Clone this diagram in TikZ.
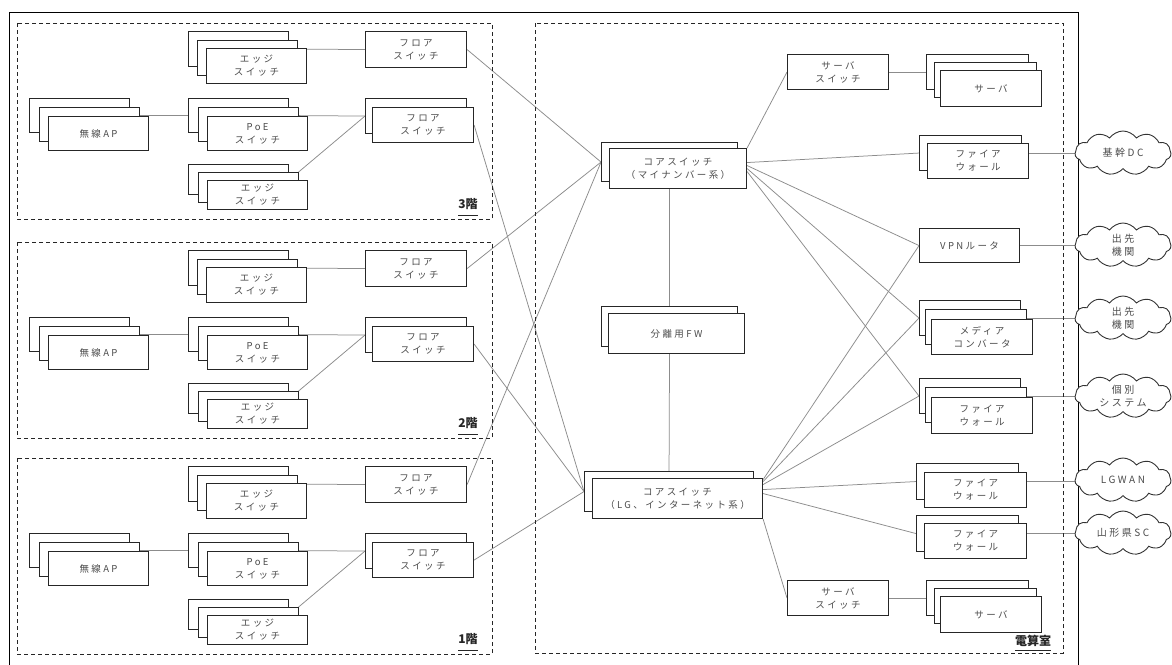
\documentclass[tikz,border=0pt]{standalone}
\usepackage{fontspec}
\newfontfamily\jpf[LetterSpace=25]{Noto Sans CJK JP}
\newfontfamily\jpl{Noto Sans CJK JP}
\usetikzlibrary{shapes.symbols}
\pgfdeclarelayer{bg}
\pgfsetlayers{bg,main}
\tikzset{
  box/.style={draw=black!85, line width=1.1pt, fill=white, anchor=north west, inner sep=0pt,
    text=black!70, align=center, font=\jpf\fontsize{9.5}{13}\selectfont},
  conn/.style={draw=black!45, line width=0.75pt},
  frame/.style={draw=black!85, line width=0.9pt, dash pattern=on 4pt off 3pt},
  flabel/.style={inner sep=0pt, font=\jpl\bfseries\fontsize{12}{12}\selectfont, text=black!85},
  cloudn/.style={cloud, draw=black!80, fill=white, line width=0.9pt, cloud puffs=11, cloud puff arc=110,
    cloud ignores aspect, minimum width=96pt, minimum height=44pt, inner sep=0pt, align=center,
    text=black!70, font=\jpf\fontsize{10}{13}\selectfont},
}
\newcommand\myfloor[3]{%
  \draw[frame] (17,#1) rectangle (492,{#1+196});
  \node[box,minimum width=100pt,minimum height=35pt] (#2e1b) at (188,{#1+8}) {};
  \node[box,minimum width=100pt,minimum height=35pt] (#2e1m) at (197,{#1+16.5}) {};
  \node[box,minimum width=100pt,minimum height=35pt] (#2e1f) at (206,{#1+25}) {エッジ\\スイッチ};
  \node[box,minimum width=101pt,minimum height=36pt] (#2fs1) at (365,{#1+8}) {フロア\\スイッチ};
  \node[box,minimum width=100pt,minimum height=34pt] (#2apb) at (29,{#1+75}) {};
  \node[box,minimum width=100pt,minimum height=34pt] (#2apm) at (38.5,{#1+84}) {};
  \node[box,minimum width=100pt,minimum height=34pt] (#2apf) at (48,{#1+93}) {無線AP};
  \node[box,minimum width=100pt,minimum height=34pt] (#2pb) at (188,{#1+75}) {};
  \node[box,minimum width=100pt,minimum height=34pt] (#2pm) at (197.5,{#1+84}) {};
  \node[box,minimum width=100pt,minimum height=34pt] (#2pf) at (207,{#1+93}) {PoE\\スイッチ};
  \node[box,minimum width=101pt,minimum height=35pt] (#2fb) at (365,{#1+75}) {};
  \node[box,minimum width=101pt,minimum height=35pt] (#2ff) at (372,{#1+84}) {フロア\\スイッチ};
  \node[box,minimum width=100pt,minimum height=30pt] (#2e2b) at (188,{#1+141}) {};
  \node[box,minimum width=100pt,minimum height=30pt] (#2e2m) at (197.5,{#1+149}) {};
  \node[box,minimum width=100pt,minimum height=29pt] (#2e2f) at (207,{#1+157}) {エッジ\\スイッチ};
  \node[flabel] (#2lab) at (468,{#1+181}) {#3};
  \draw[black!85, line width=0.8pt] (#2lab.west |- 0,{#1+192}) -- (#2lab.east |- 0,{#1+192});
  \begin{pgfonlayer}{bg}
    \draw[conn] (#2e1b.east) -- (#2fs1.west);
    \draw[conn] (#2apb.east) -- (#2pb.west);
    \draw[conn] (#2pb.east) -- (#2fb.west);
    \draw[conn] (#2e2m.north east) -- (#2fb.west);
  \end{pgfonlayer}
}
\begin{document}
\begin{tikzpicture}[x=1pt,y=-1pt]
\useasboundingbox (0,0) rectangle (1172,664);
\clip (0,0) rectangle (1172,664);
\begin{pgfonlayer}{bg}
  \fill[white] (0,0) rectangle (1172,664);
\end{pgfonlayer}
\draw[black, line width=1pt] (9,12) rectangle (1078,700);

% floors
\myfloor{23}{a}{3階}
\myfloor{242}{b}{2階}
\myfloor{458}{c}{1階}

% computer room
\draw[frame] (535,23) rectangle (1063,653);
\node[flabel] (roomlab) at (1033,641) {電算室};
\draw[black!85, line width=0.8pt] (roomlab.west |- 0,650) -- (roomlab.east |- 0,650);

\node[box,minimum width=136pt,minimum height=39pt] (c1b) at (601,142) {};
\node[box,minimum width=137pt,minimum height=40pt] (c1f) at (609,148) {コアスイッチ\\（マイナンバー系）};
\node[box,minimum width=136pt,minimum height=40pt] (sfb) at (601,306) {};
\node[box,minimum width=136pt,minimum height=40pt] (sff) at (608,313) {分離用FW};
\node[box,minimum width=169pt,minimum height=40pt] (c2b) at (584,471) {};
\node[box,minimum width=170pt,minimum height=40pt] (c2f) at (592,478) {コアスイッチ\\（LG、インターネット系）};

\node[box,minimum width=101pt,minimum height=35pt] (ss1) at (787,54) {サーバ\\スイッチ};
\node[box,minimum width=102pt,minimum height=35pt] (sv1b) at (926,54) {};
\node[box,minimum width=102pt,minimum height=35pt] (sv1m) at (934,62) {};
\node[box,minimum width=101pt,minimum height=36pt] (sv1f) at (940,70) {サーバ};

\node[box,minimum width=102pt,minimum height=35pt] (fw1b) at (919,135) {};
\node[box,minimum width=101pt,minimum height=35pt] (fw1f) at (927,143) {ファイア\\ウォール};

\node[box,minimum width=100pt,minimum height=34pt] (vpn) at (919,228) {VPNルータ};

\node[box,minimum width=101pt,minimum height=35pt] (mcb) at (919,300) {};
\node[box,minimum width=101pt,minimum height=35pt] (mcm) at (925,309) {};
\node[box,minimum width=101pt,minimum height=35pt] (mcf) at (931,319) {メディア\\コンバータ};

\node[box,minimum width=101pt,minimum height=35pt] (fw2b) at (919,378) {};
\node[box,minimum width=101pt,minimum height=35pt] (fw2m) at (925,387) {};
\node[box,minimum width=101pt,minimum height=36pt] (fw2f) at (931,397) {ファイア\\ウォール};

\node[box,minimum width=102pt,minimum height=36pt] (fw3b) at (916,463) {};
\node[box,minimum width=102pt,minimum height=35pt] (fw3f) at (924,472) {ファイア\\ウォール};

\node[box,minimum width=102pt,minimum height=36pt] (fw4b) at (916,515) {};
\node[box,minimum width=102pt,minimum height=35pt] (fw4f) at (924,523) {ファイア\\ウォール};

\node[box,minimum width=101pt,minimum height=35pt] (ss2) at (787,580) {サーバ\\スイッチ};
\node[box,minimum width=102pt,minimum height=35pt] (sv2b) at (926,580) {};
\node[box,minimum width=102pt,minimum height=35pt] (sv2m) at (934,588) {};
\node[box,minimum width=101pt,minimum height=36pt] (sv2f) at (940,596) {サーバ};

% clouds
\node[cloudn] (cl1) at (1123,153) {基幹DC};
\node[cloudn] (cl2) at (1123,245) {出先\\機関};
\node[cloudn] (cl3) at (1123,318) {出先\\機関};
\node[cloudn] (cl4) at (1123,396) {個別\\システム};
\node[cloudn] (cl5) at (1123,480) {LGWAN};
\node[cloudn] (cl6) at (1123,533) {山形県SC};

\begin{pgfonlayer}{bg}
  % floors to cores
  \foreach \f in {a,b,c} {
    \draw[conn] (\f fs1.east) -- (c1b.west);
    \draw[conn] (\f ff.east) -- (c2b.west);
  }
  % core - separation FW
  \draw[conn] (c1b.south) -- (sfb.north);
  \draw[conn] (sfb.south) -- (c2b.north);
  % core 1 right side
  \draw[conn] (c1f.north east) -- (ss1.west);
  \draw[conn] ([yshift=6pt]c1f.east) -- (fw1b.west);
  \draw[conn] ([yshift=3pt]c1f.east) -- (vpn.west);
  \draw[conn] ([yshift=0pt]c1f.east) -- (mcb.west);
  \draw[conn] ([yshift=-3pt]c1f.east) -- (fw2b.west);
  % core 2 right side
  \draw[conn] ([yshift=19pt]c2f.east) -- (vpn.west);
  \draw[conn] ([yshift=17pt]c2f.east) -- (mcb.west);
  \draw[conn] ([yshift=14pt]c2f.east) -- (fw2b.west);
  \draw[conn] ([yshift=9pt]c2f.east) -- (fw3b.west);
  \draw[conn] ([yshift=5pt]c2f.east) -- (fw4b.west);
  \draw[conn] (c2f.south east) -- (ss2.west);
  % servers
  \draw[conn] (ss1.east) -- (sv1b.west);
  \draw[conn] (ss2.east) -- (sv2b.west);
  % to clouds
  \draw[conn] (fw1b.east) -- (fw1b.east -| cl1.west);
  \draw[conn] (vpn.east) -- (vpn.east -| cl2.west);
  \draw[conn] (mcb.east) -- (mcb.east -| cl3.west);
  \draw[conn] (fw2b.east) -- (fw2b.east -| cl4.west);
  \draw[conn] (fw3b.east) -- (fw3b.east -| cl5.west);
  \draw[conn] (fw4b.east) -- (fw4b.east -| cl6.west);
\end{pgfonlayer}
\end{tikzpicture}
\end{document}
